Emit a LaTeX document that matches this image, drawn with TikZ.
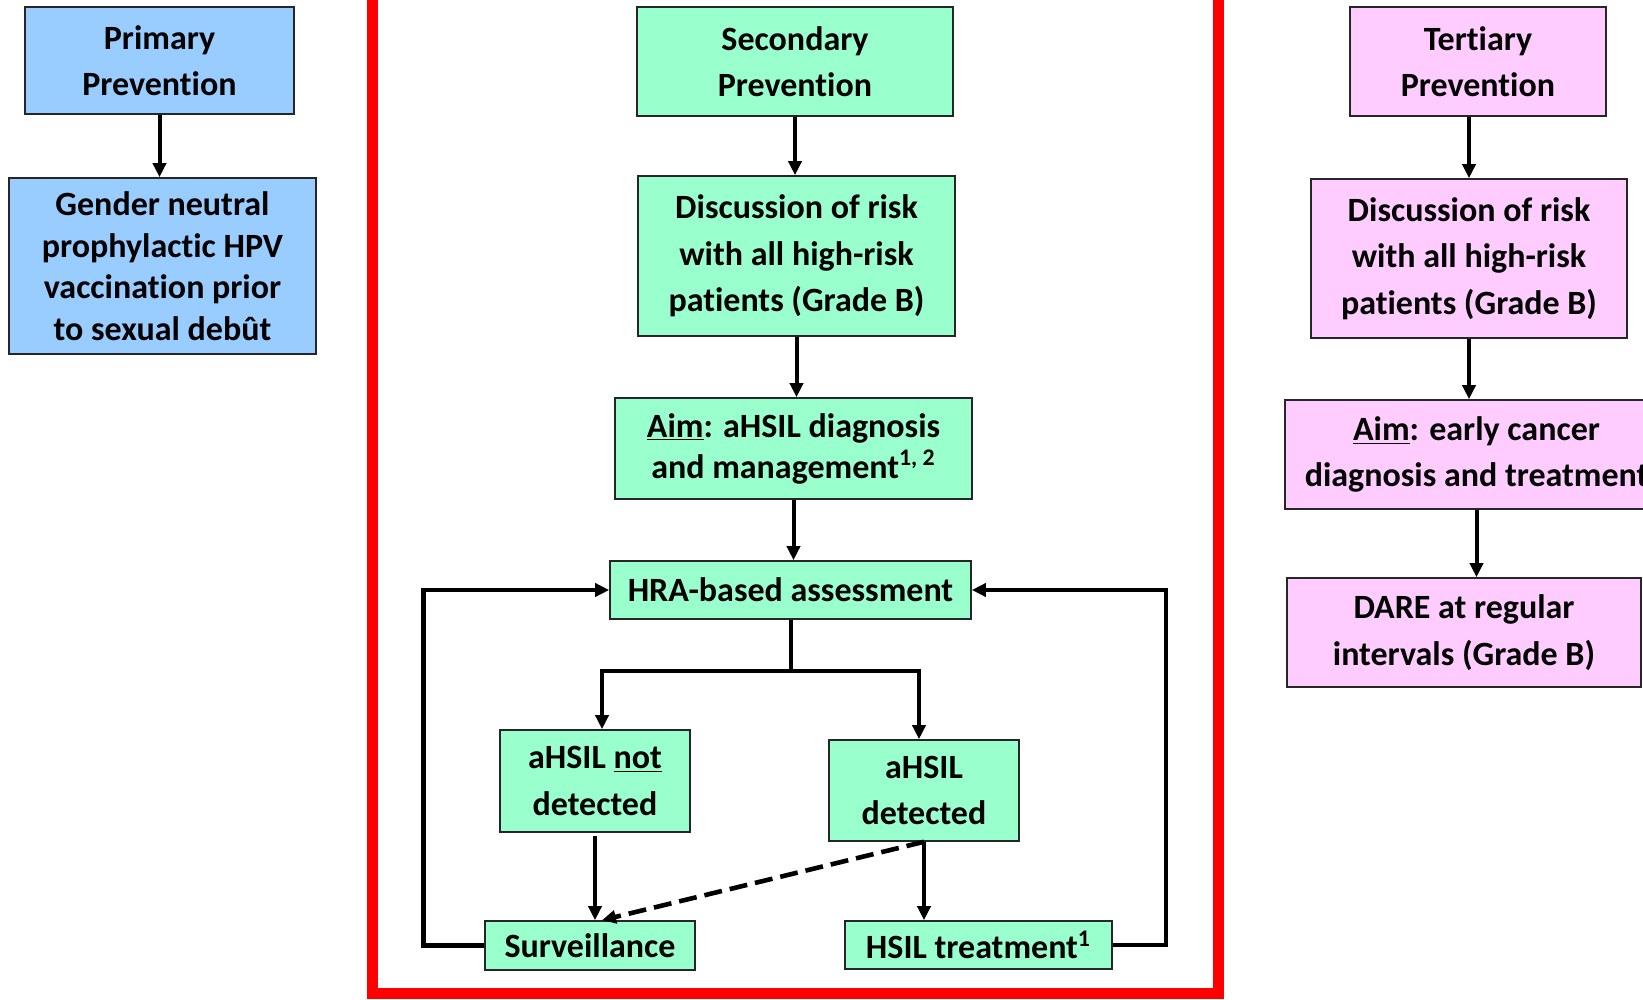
\documentclass[tikz,border=0pt]{standalone}
\usepackage{fontspec}
\setmainfont{Carlito}[Ligatures={NoCommon}]
\usetikzlibrary{arrows.meta}

\definecolor{primblue}{HTML}{99CCFF}
\definecolor{secgreen}{HTML}{99FFCC}
\definecolor{terpink}{HTML}{FFCCFF}
\definecolor{framered}{HTML}{FF0000}

% a box given by its corner pixels: name, x1, y1, x2, y2, style, text
\newcommand{\flowbox}[7]{%
  \pgfmathsetmacro{\flowboxwd}{(#4-#2)*0.5}%
  \pgfmathsetmacro{\flowboxht}{(#5-#3)*0.5}%
  \node[#6, minimum width=\flowboxwd pt, minimum height=\flowboxht pt]
    (#1) at ({(#2+#4)/2},{(#3+#5)/2}) {#7};%
}

\begin{document}
\begin{tikzpicture}[
  x=0.5pt, y=-0.5pt,
  box/.style={draw=black!85, line width=0.8pt, inner sep=0pt, align=center,
    font=\fontsize{17}{23.2}\selectfont\bfseries},
  pbox/.style={box, fill=primblue},
  sbox/.style={box, fill=secgreen},
  tbox/.style={box, fill=terpink},
  conn/.style={line width=2pt, line join=miter},
  arrow/.style={conn, -{Triangle[length=7pt, width=6.5pt]}},
  loop/.style={arrow, line width=2.3pt},
]
\useasboundingbox (0,0) rectangle (1643,1000);
\clip (0,0) rectangle (1643,1000);

% red frame round the secondary column, open at the top
\draw[framered, line width=5.5pt] (372.5,-20) -- (372.5,993) -- (1218.5,993) -- (1218.5,-20);

% primary prevention
\flowbox{prim}{25}{7}{294}{114}{pbox}{Primary\\Prevention}
\flowbox{vacc}{9}{178}{316}{354}{pbox, font=\fontsize{17}{20.8}\selectfont\bfseries}
  {Gender neutral\\prophylactic HPV\\vaccination prior\\to sexual debût}

% secondary prevention
\flowbox{sec}{637}{7}{953}{116}{sbox}{Secondary\\Prevention}
\flowbox{sdisc}{638}{176}{955}{336}{sbox}{Discussion of risk\\with all high-risk\\patients (Grade B)}
\flowbox{saim}{615}{398}{972}{499}{sbox, font=\fontsize{17}{20.5}\selectfont\bfseries}
  {\underline{Aim}: aHSIL diagnosis\\and management\textsuperscript{1, 2}}
\flowbox{hra}{610}{561}{971}{619}{sbox}{HRA-based assessment}
\flowbox{notdet}{500}{730}{690}{832}{sbox}{aHSIL \underline{not}\\detected}
\flowbox{det}{829}{740}{1019}{841}{sbox}{aHSIL\\detected}
\flowbox{surv}{485}{921}{695}{970}{sbox}{Surveillance}
\flowbox{treat}{845}{921}{1112}{969}{sbox}{HSIL treatment\textsuperscript{1}}

% tertiary prevention
\flowbox{ter}{1350}{7}{1606}{116}{tbox}{Tertiary\\Prevention}
\flowbox{tdisc}{1311}{179}{1627}{338}{tbox}{Discussion of risk\\with all high-risk\\patients (Grade B)}
\flowbox{taim}{1285}{400}{1668}{509}{tbox}{\underline{Aim}: early cancer\\diagnosis and treatment}
\flowbox{dare}{1287}{578}{1641}{687}{tbox}{DARE at regular\\intervals (Grade B)}

% primary connector
\draw[arrow] (prim.south) -- (prim.south |- vacc.north);

% secondary connectors
\draw[arrow] (sec.south) -- (sec.south |- sdisc.north);
\draw[arrow] (sdisc.south) -- (sdisc.south |- saim.north);
\draw[arrow] (saim.south) -- (saim.south |- hra.north);

\coordinate (brL) at (602,671);
\coordinate (brR) at (919,671);
\draw[arrow] (hra.south) |- (brL) -- (brL |- notdet.north);
\draw[arrow] (hra.south) |- (brR) -- (brR |- det.north);

\draw[arrow] ([yshift=-1.5pt]notdet.south) -- (notdet.south |- surv.north);
\draw[arrow] (det.south) -- (det.south |- treat.north);
\draw[arrow, line width=2.3pt, dashed, dash pattern=on 9pt off 4pt] (det.south) -- ([xshift=6pt]surv.north);

% feedback loops back to the assessment
\draw[loop] (surv.west) -- ++(-61,0) |- (hra.west);
\draw[loop] (treat.east) -- ++(53,0) |- (hra.east);

% tertiary connectors
\draw[arrow] (tdisc.north |- ter.south) -- (tdisc.north);
\draw[arrow] (tdisc.south) -- (tdisc.south |- taim.north);
\draw[arrow] (taim.south) -- (taim.south |- dare.north);
\end{tikzpicture}
\end{document}
